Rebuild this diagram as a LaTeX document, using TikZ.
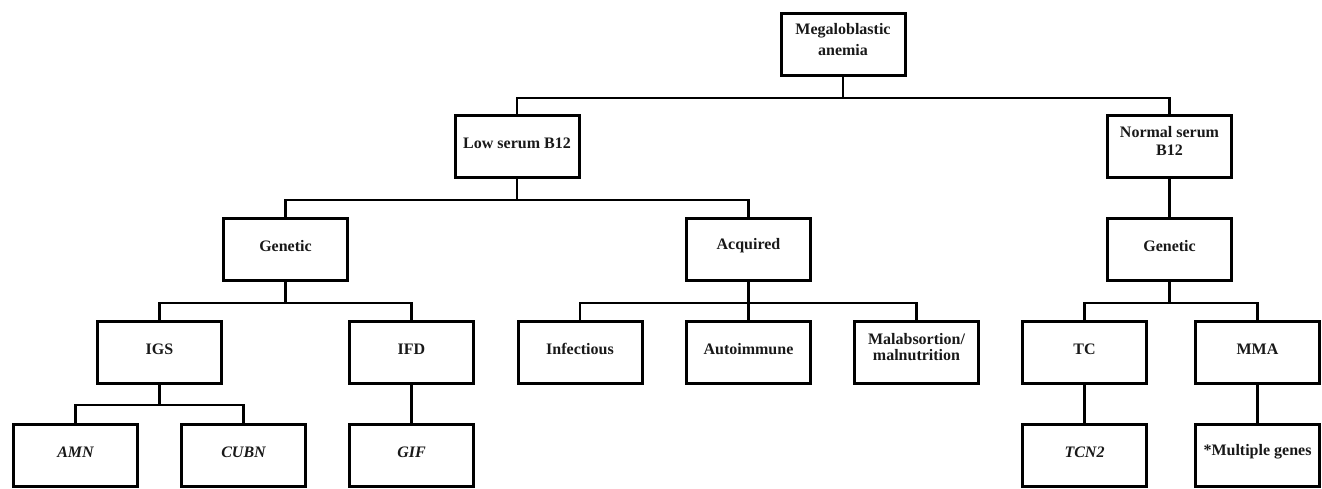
\documentclass[tikz,border=0pt]{standalone}
\usepackage{fontspec}
\setmainfont{Liberation Serif}
\newcommand\upt[1]{\raisebox{3pt}[\height][\depth]{#1}}
\newcommand\twol[3][0pt]{\upt{\begin{tabular}{@{}c@{}}#2\\[#1]#3\end{tabular}}}
\begin{document}
\begin{tikzpicture}[x=1pt,y=-1pt,
  box/.style={draw, line width=3pt, minimum width=124pt, minimum height=62pt,
    inner sep=2pt, align=center, text=black!90,
    font={\fontsize{16}{18}\selectfont\bfseries}},
  gene/.style={box, font={\fontsize{16}{18}\selectfont\bfseries\itshape}},
  conn/.style={line width=2.6pt}]
\useasboundingbox (0,0) rectangle (1322,488);
% level 0
\node[box] (mega) at (843,44.5) {\twol[3pt]{Megaloblastic}{anemia}};
% level 1
\node[box] (low) at (517,146) {\upt{Low serum B12}};
\node[box] (normal) at (1169.5,146) {\twol{Normal serum}{B12}};
% level 2
\node[box] (genL) at (285.5,249) {\upt{Genetic}};
\node[box] (acq) at (748.5,249) {\upt{Acquired}};
\node[box] (genR) at (1169.5,249) {\upt{Genetic}};
% level 3
\node[box] (igs) at (159.5,352) {\upt{IGS}};
\node[box] (ifd) at (411.5,352) {\upt{IFD}};
\node[box] (inf) at (580,352) {\upt{Infectious}};
\node[box] (auto) at (748.5,352) {\upt{Autoimmune}};
\node[box] (mal) at (916.5,352) {\twol[-2pt]{Malabsortion/}{malnutrition}};
\node[box] (tc) at (1084.5,352) {\upt{TC}};
\node[box] (mma) at (1257.5,352) {\upt{MMA}};
% level 4
\node[gene] (amn) at (75.5,455) {\upt{AMN}};
\node[gene] (cubn) at (243.5,455) {\upt{CUBN}};
\node[gene] (gif) at (411.5,455) {\upt{GIF}};
\node[gene] (tcn) at (1084.5,455) {\upt{TCN2}};
\node[box] (mult) at (1257.5,455) {\upt{*Multiple genes}};
% bar levels
\coordinate (b1) at (0,98);
\coordinate (b2) at (0,200);
\coordinate (b3) at (0,303);
\coordinate (b4) at (0,405);
% connectors
\draw[conn] (mega.south) -- (mega.south |- b1);
\draw[conn] (low.north) |- (mega.south |- b1) -| (normal.north);
\draw[conn] (low.south) -- (low.south |- b2);
\draw[conn] (genL.north) |- (low.south |- b2) -| (acq.north);
\draw[conn] (normal.south) -- (genR.north);
\draw[conn] (genL.south) -- (genL.south |- b3);
\draw[conn] (igs.north) |- (genL.south |- b3) -| (ifd.north);
\draw[conn] (acq.south) -- (auto.north);
\draw[conn] (inf.north) |- (acq.south |- b3) -| (mal.north);
\draw[conn] (genR.south) -- (genR.south |- b3);
\draw[conn] (tc.north) |- (genR.south |- b3) -| (mma.north);
\draw[conn] (igs.south) -- (igs.south |- b4);
\draw[conn] (amn.north) |- (igs.south |- b4) -| (cubn.north);
\draw[conn] (ifd.south) -- (gif.north);
\draw[conn] (tc.south) -- (tcn.north);
\draw[conn] (mma.south) -- (mult.north);
\end{tikzpicture}
\end{document}
